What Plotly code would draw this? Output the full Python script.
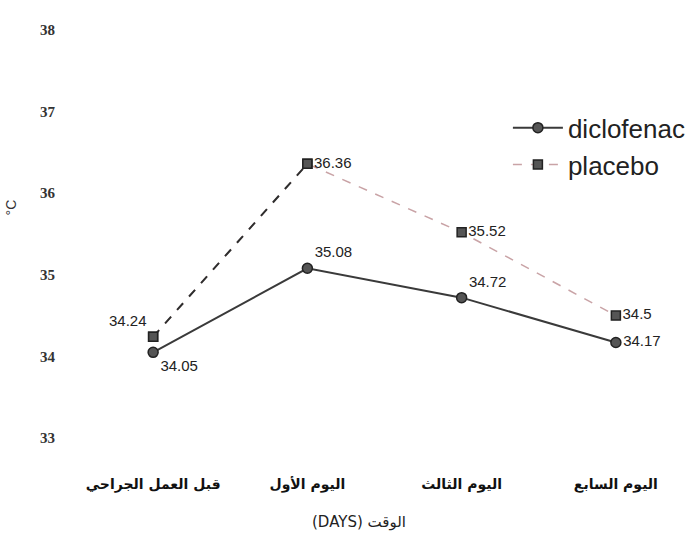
import plotly.graph_objects as go

# Surgical-wound temperature by day
days = ["قبل العمل الجراحي", "اليوم الأول", "اليوم الثالث", "اليوم السابع"]
diclofenac = [34.05, 35.08, 34.72, 34.17]
placebo = [34.24, 36.36, 35.52, 34.5]
y_ticks = [33, 34, 35, 36, 37, 38]

diclo_pos = ["bottom right", "top right", "top right", "middle right"]
placebo_pos = ["top left", "middle right", "middle right", "middle right"]

label_font = dict(family="Liberation Sans, Arial, sans-serif", size=15, color="#222")

fig = go.Figure()

fig.add_trace(go.Scatter(
    x=days, y=diclofenac, name="diclofenac",
    mode="lines+markers+text",
    line=dict(color="#3a3a3a", width=2),
    marker=dict(symbol="circle", size=10, color="#555", line=dict(color="#222", width=1.5)),
    text=[f"{v:g}" for v in diclofenac], textposition=diclo_pos,
    textfont=label_font,
))

fig.add_trace(go.Scatter(
    x=days, y=placebo, name="placebo",
    mode="lines+markers+text",
    line=dict(color="#c9a3a6", width=1.5, dash="dash"),
    marker=dict(symbol="square", size=9, color="#555", line=dict(color="#222", width=1.5)),
    text=[f"{v:g}" for v in placebo], textposition=placebo_pos,
    textfont=label_font,
))

# darker dashed rise for the first placebo interval
fig.add_trace(go.Scatter(
    x=days[:2], y=placebo[:2], mode="lines+markers", showlegend=False,
    line=dict(color="#2e2e2e", width=2, dash="dash"),
    marker=dict(symbol="square", size=9, color="#555", line=dict(color="#222", width=1.5)),
    hoverinfo="skip",
))

fig.update_layout(
    width=693, height=545,
    margin=dict(l=76, r=0, t=30, b=107),
    paper_bgcolor="white", plot_bgcolor="white",
    showlegend=True,
    legend=dict(
        x=0.7, y=0.818, xanchor="left", yanchor="top",
        font=dict(family="Liberation Sans, Arial, sans-serif", size=26, color="#222"),
        bgcolor="rgba(0,0,0,0)", itemwidth=50, tracegroupgap=0,
    ),
    xaxis=dict(
        type="category", range=[-0.5, 3.5],
        showgrid=False, zeroline=False, showline=False, ticks="",
        tickfont=dict(family="DejaVu Sans, sans-serif", size=14, color="#111", weight="bold"),
        ticklabelstandoff=36,
    ),
    yaxis=dict(
        range=[33, 38], tickvals=y_ticks,
        showgrid=False, zeroline=False, showline=False, ticks="",
        tickfont=dict(family="Liberation Serif, serif", size=15, color="#333", weight="bold"),
        ticklabelstandoff=20,
    ),
)

# axis titles
fig.add_annotation(
    text="(DAYS) الوقت", xref="paper", yref="paper",
    x=(359 - 76) / 617, y=-(522 - 438) / 408, yanchor="middle", showarrow=False,
    font=dict(family="DejaVu Sans, sans-serif", size=15, color="#222"),
)
fig.add_annotation(
    text="°C", textangle=-90, xref="paper", yref="paper",
    x=-0.12, y=0.565, showarrow=False,
    font=dict(family="Liberation Sans, Arial, sans-serif", size=14, color="#333"),
)

fig.write_html("out.html")
